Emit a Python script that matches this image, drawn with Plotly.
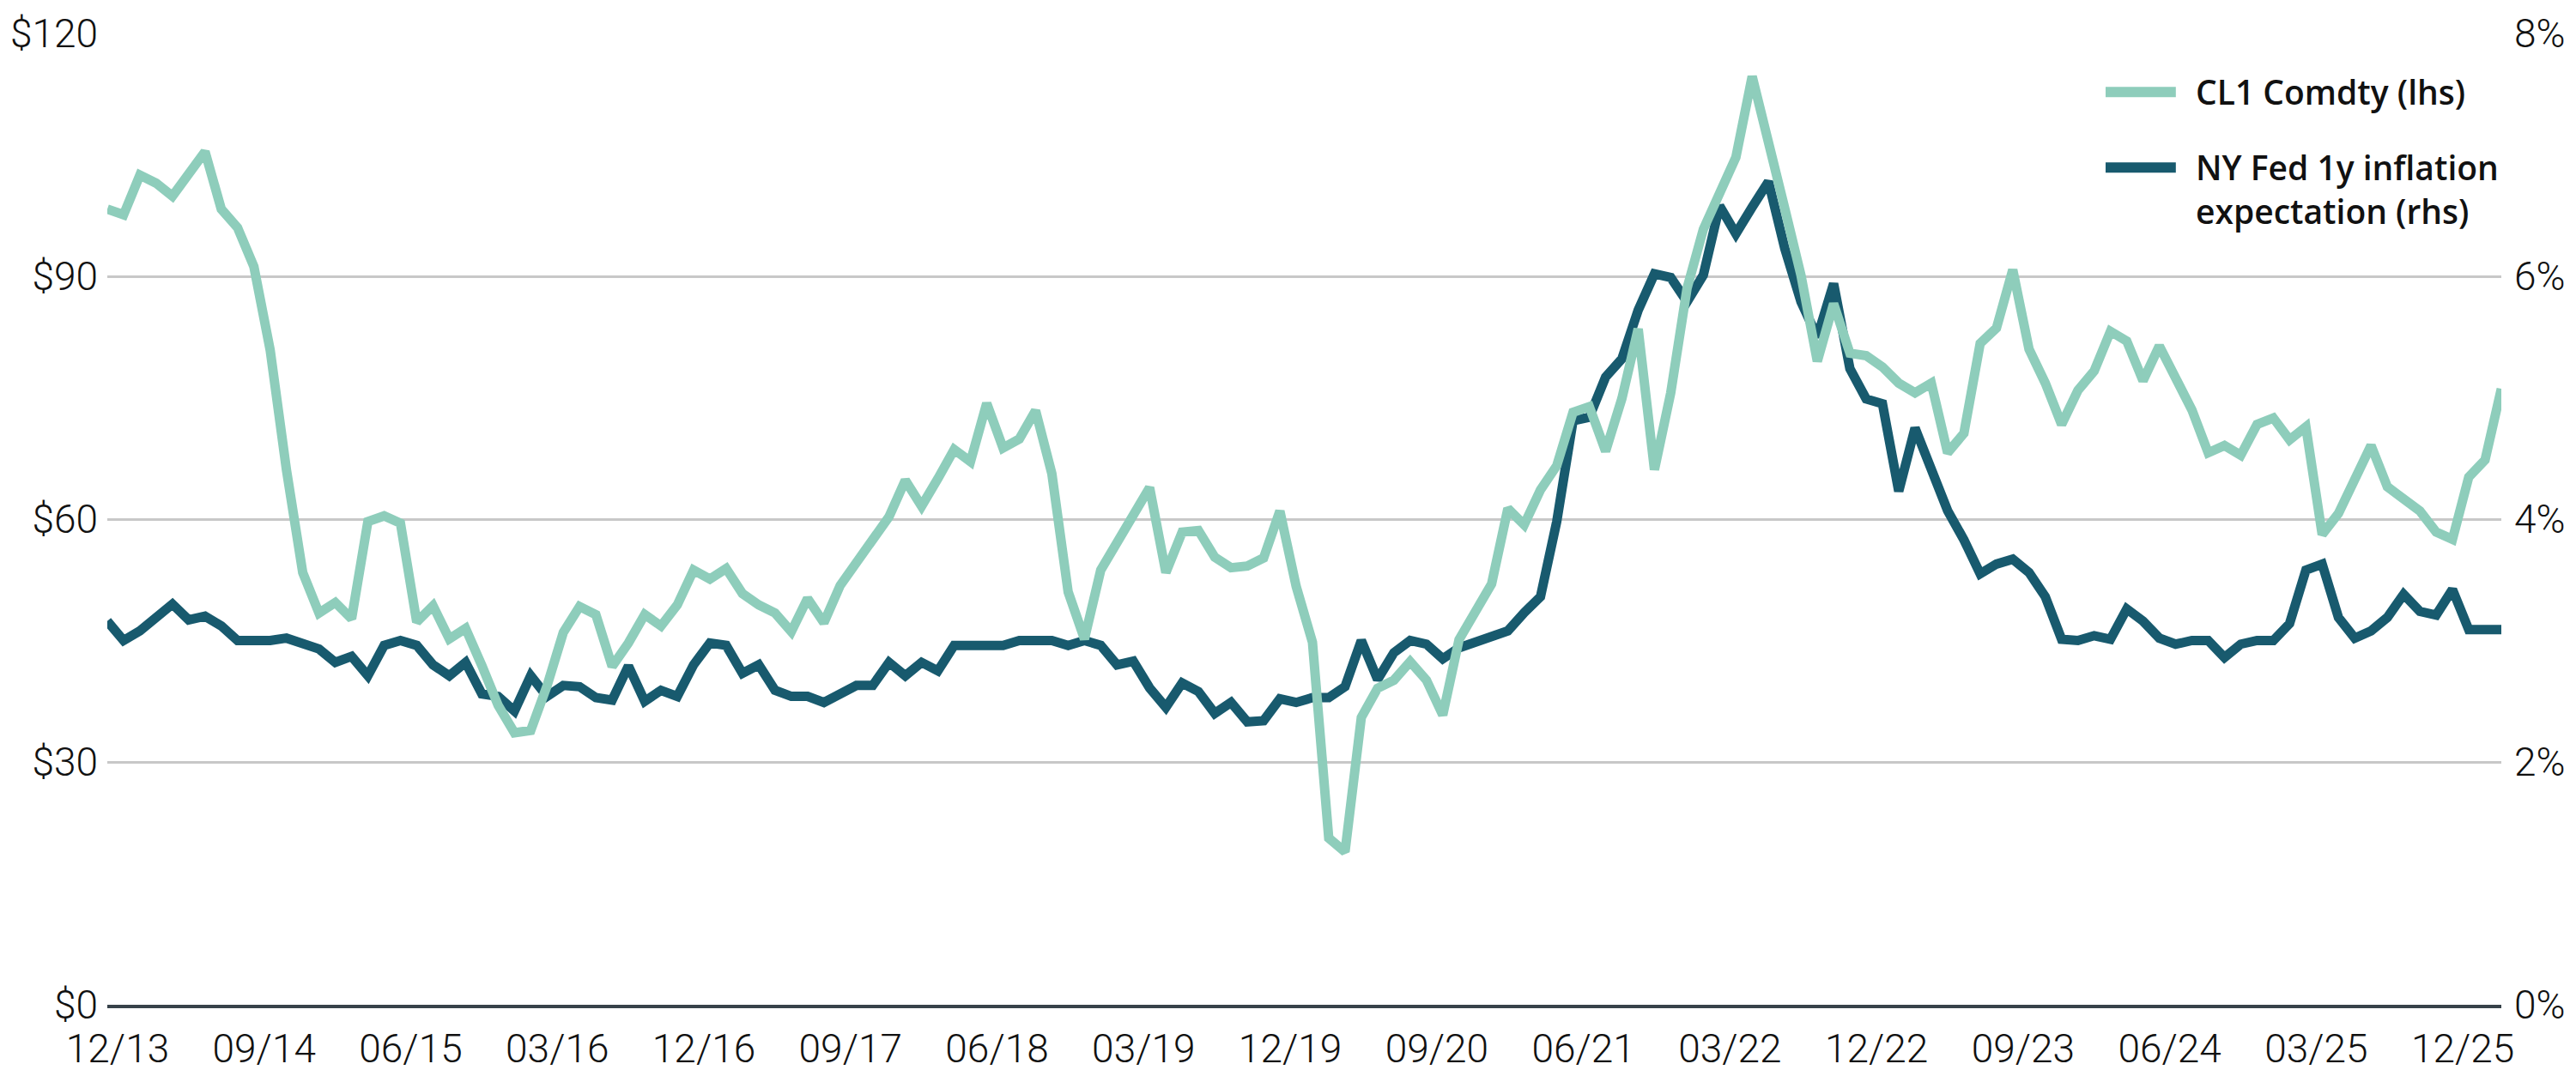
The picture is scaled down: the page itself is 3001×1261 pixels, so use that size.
import pandas as pd
import plotly.graph_objects as go

# monthly points, 12/13 .. 03/26
months = pd.date_range('2013-12-01', periods=148, freq='MS').strftime('%m/%y').tolist()
tick_labels = months[::9]

cl1 = [
    98.3, 97.6, 102.5, 101.5, 99.9, 102.8, 105.4, 98.3, 96.0, 91.2, 80.9, 66.1,
    53.4, 48.4, 49.7, 47.7, 59.7, 60.4, 59.5, 47.3, 49.3, 45.2, 46.5, 41.9,
    37.0, 33.6, 33.9, 39.4, 46.0, 49.2, 48.2, 41.8, 44.7, 48.2, 46.8, 49.4,
    53.7, 52.6, 53.9, 50.8, 49.4, 48.4, 46.1, 50.2, 47.2, 51.8, 54.5, 57.4,
    60.3, 64.8, 61.6, 65.0, 68.6, 67.1, 74.3, 68.8, 69.9, 73.4, 65.6, 51.0,
    45.2, 53.7, 57.1, 60.3, 63.9, 53.4, 58.4, 58.6, 55.3, 54.0, 54.2, 55.2,
    61.0, 51.7, 44.8, 20.6, 18.9, 35.5, 39.1, 40.1, 42.4, 40.1, 35.8, 45.1,
    48.4, 52.0, 61.3, 59.3, 63.6, 66.6, 73.2, 73.9, 68.4, 74.9, 83.5, 66.1,
    75.6, 88.5, 95.8, 100.1, 104.7, 114.7, 106.0, 98.4, 90.1, 79.5, 86.6, 80.5,
    80.2, 78.8, 76.8, 75.6, 76.8, 68.2, 70.6, 81.7, 83.6, 90.8, 81.0, 76.8,
    71.7, 75.9, 78.3, 83.2, 82.0, 77.1, 81.4, 77.7, 73.5, 68.2, 69.1, 67.9,
    71.7, 72.5, 69.8, 71.4, 58.1, 60.7, 64.9, 69.1, 64.0, 62.5, 61.0, 58.4,
    57.5, 65.2, 67.3, 76.1,
]

nyfed_1y = [
    3.16, 3.00, 3.08, 3.20, 3.30, 3.17, 3.20, 3.12, 3.00, 3.00, 3.00, 3.02,
    2.98, 2.93, 2.82, 2.87, 2.71, 2.96, 3.00, 2.96, 2.80, 2.71, 2.82, 2.56,
    2.54, 2.42, 2.71, 2.54, 2.63, 2.62, 2.53, 2.51, 2.79, 2.50, 2.59, 2.54,
    2.80, 2.98, 2.96, 2.73, 2.80, 2.59, 2.54, 2.54, 2.49, 2.55, 2.63, 2.63,
    2.82, 2.71, 2.82, 2.75, 2.96, 2.96, 2.96, 2.96, 3.00, 3.00, 3.00, 2.96,
    3.00, 2.96, 2.80, 2.83, 2.61, 2.45, 2.65, 2.58, 2.40, 2.49, 2.33, 2.34,
    2.52, 2.49, 2.53, 2.53, 2.62, 3.00, 2.68, 2.90, 3.00, 2.97, 2.85, 2.94,
    2.98, 3.03, 3.08, 3.23, 3.36, 3.98, 4.81, 4.84, 5.17, 5.32, 5.72, 6.02,
    5.99, 5.79, 6.01, 6.58, 6.35, 6.57, 6.78, 6.23, 5.79, 5.50, 5.94, 5.24,
    4.99, 4.95, 4.23, 4.75, 4.39, 4.07, 3.83, 3.55, 3.63, 3.67, 3.56, 3.36,
    3.01, 3.00, 3.04, 3.01, 3.26, 3.16, 3.02, 2.97, 3.00, 3.00, 2.86, 2.97,
    3.00, 3.00, 3.14, 3.58, 3.63, 3.19, 3.02, 3.08, 3.19, 3.38, 3.24, 3.21,
    3.42, 3.09, 3.09, 3.09,
]

usd_ticks = [0, 30, 60, 90, 120]
pct_ticks = [0, 2, 4, 6, 8]
names = ['CL1 Comdty (lhs)', 'NY Fed 1y inflation<br>expectation (rhs)']
LIGHT = '#8ecdbb'
DARK = '#185a6e'

W, H = 3001, 1261
L, R, T, B = 124, 82, 28, 74
plot_w, plot_h = W - L - R, H - T - B


def px_x(x):
    return (x - L) / plot_w


def px_y(y):
    return (H - B - y) / plot_h


tick_font = dict(family='Roboto', size=46, color='#111111', weight=300)

fig = go.Figure()
# NY Fed on the right-hand axis, drawn underneath
fig.add_trace(go.Scatter(x=months, y=nyfed_1y, mode='lines', yaxis='y',
                         line=dict(color=DARK, width=11), showlegend=False))
# oil on the left-hand axis, drawn on top
fig.add_trace(go.Scatter(x=months, y=cl1, mode='lines', yaxis='y2',
                         line=dict(color=LIGHT, width=11), showlegend=False))

fig.update_layout(
    width=W, height=H,
    margin=dict(l=L, r=R, t=T, b=B),
    plot_bgcolor='white', paper_bgcolor='white',
    xaxis=dict(type='category', range=[0, len(months) - 1],
               tickmode='array', tickvals=tick_labels, ticktext=tick_labels,
               showgrid=False, zeroline=False,
               showline=True, linecolor='#37424a', linewidth=4,
               ticks='', tickfont=tick_font, ticklabelstandoff=8,
               ticklabelshift=12),
    yaxis=dict(range=[0, 8], tickmode='array', tickvals=pct_ticks,
               ticktext=[f'{v}%' for v in pct_ticks],
               side='right', showgrid=True, gridcolor='#c8c8c8', gridwidth=2.5,
               zeroline=False, ticks='', tickfont=tick_font,
               ticklabelstandoff=14),
    yaxis2=dict(range=[0, 120], tickmode='array', tickvals=usd_ticks,
                ticktext=[f'${v}' for v in usd_ticks],
                side='left', overlaying='y', showgrid=False, zeroline=False,
                ticks='', tickfont=tick_font, ticklabelstandoff=10),
)

# hand-drawn legend, top right
legend_font = dict(family='Open Sans', size=39, color='#111111', weight=600)
for name, color, y_line, y_text in [(names[0], LIGHT, 98, 97),
                                    (names[1], DARK, 188, 213)]:
    fig.add_shape(type='line', xref='paper', yref='paper',
                  x0=px_x(2457), x1=px_x(2539), y0=px_y(y_line), y1=px_y(y_line),
                  line=dict(color=color, width=12))
    fig.add_annotation(xref='paper', yref='paper', x=px_x(2560), y=px_y(y_text),
                       text=name, showarrow=False, xanchor='left', yanchor='middle',
                       align='left', font=legend_font)

fig.write_html("out.html", config={'displayModeBar': False},
               post_script="document.body.style.margin='0';")
